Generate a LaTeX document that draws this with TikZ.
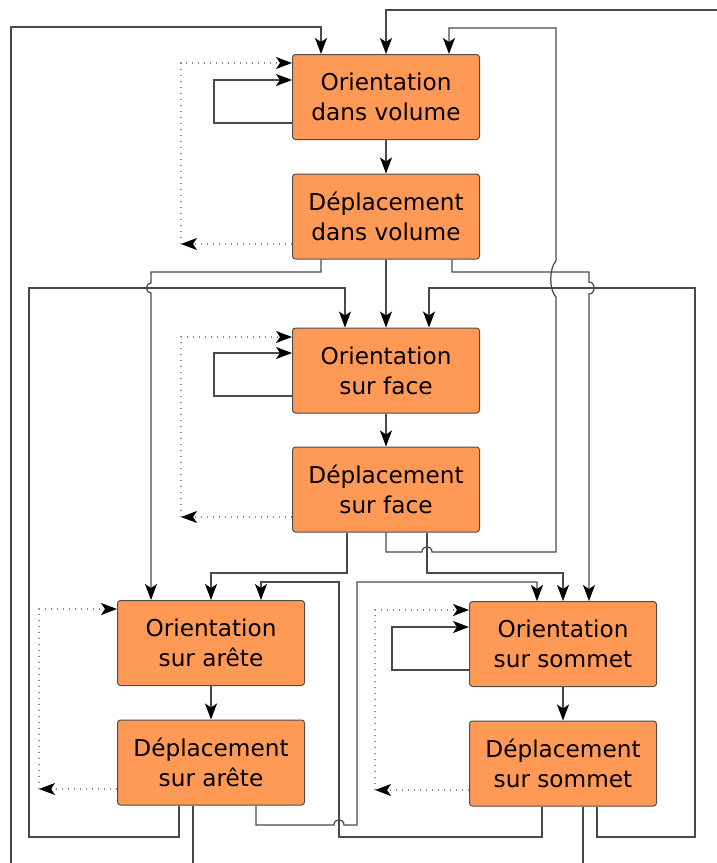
\documentclass[tikz,border=0pt]{standalone}
\usepackage{fontspec}
\setmainfont{DejaVu Sans}
\usetikzlibrary{arrows.meta}
\definecolor{boxfill}{HTML}{FF9955}
\definecolor{boxline}{HTML}{4D4D4D}
\definecolor{wirecol}{HTML}{4A4A4A}
\definecolor{dotcol}{HTML}{8A8A8A}

\begin{document}
\begin{tikzpicture}[x=1pt,y=-1pt,
  stbox/.style={draw=boxline, fill=boxfill, line width=1pt, rounded corners=3pt,
    minimum width=187pt, minimum height=85pt, inner sep=0pt, align=center,
    text=black, font=\fontsize{23.2}{30}\selectfont},
  tip/.tip={Stealth[length=16pt,width=12pt,inset=4pt,black]},
  wire/.style={draw=wirecol, line width=1.25pt},
  conn/.style={wire, -tip},
  back/.style={draw=dotcol, line width=1.2pt, dash pattern=on 1.2pt off 4.8pt, -tip}
]
\path[use as bounding box] (0,0) rectangle (717,863);

% states
\node[stbox] (OV) at (386,97)    {Orientation\\dans volume};
\node[stbox] (DV) at (386,216.5) {Déplacement\\dans volume};
\node[stbox] (OF) at (386,370.5) {Orientation\\sur face};
\node[stbox] (DF) at (386,489.5) {Déplacement\\sur face};
\node[stbox] (OA) at (211,643)   {Orientation\\sur arête};
\node[stbox] (DA) at (211,762.5) {Déplacement\\sur arête};
\node[stbox] (OS) at (563,644)   {Orientation\\sur sommet};
\node[stbox] (DS) at (563,763.5) {Déplacement\\sur sommet};

% loose ends at the border
\coordinate (inL)   at (11,863);
\coordinate (inTop) at (717,10);
\coordinate (outA)  at (193,863);
\coordinate (outS)  at (583,863);

% orientation -> displacement
\draw[conn] (OV) -- (DV);
\draw[conn] (OF) -- (DF);
\draw[conn] (OA) -- (DA);
\draw[conn] (OS) -- (DS);

% self loops
\draw[conn] ([yshift=-26pt]OV.west) -- (214,123) -- (214,80) -- ([yshift=17pt]OV.west);
\draw[conn] ([yshift=-25.5pt]OF.west) -- (214,396) -- (214,353) -- ([yshift=17.5pt]OF.west);
\draw[conn] ([yshift=-26pt]OS.west) -- (392,670) -- (392,627) -- ([yshift=17pt]OS.west);

% dotted returns
\coordinate (rV) at (181,244);
\coordinate (rF) at (181,517);
\coordinate (rA) at (39,789);
\coordinate (rS) at (375,790);
\draw[back] ([yshift=-27.5pt]DV.west) -- (rV);
\draw[back] (rV) |- ([yshift=34pt]OV.west);
\draw[back] ([yshift=-27.5pt]DF.west) -- (rF);
\draw[back] (rF) |- ([yshift=33.5pt]OF.west);
\draw[back] ([yshift=-26.5pt]DA.west) -- (rA);
\draw[back] (rA) |- ([yshift=34pt]OA.west);
\draw[back] ([yshift=-26.5pt]DS.west) -- (rS);
\draw[back] (rS) |- ([yshift=34pt]OS.west);

% entries into the volume block
\draw[conn] (inL) |- (321,27) -- ([xshift=-65pt]OV.north);
\draw[conn] (inTop) -| (OV.north);
\draw[conn] (DF.south) -- (386,552) -- (422,552)
  .. controls (422,545) and (432,545) .. (432,552) -- (556,552) -- (556,297)
  .. controls (549,290) and (549,268) .. (556,261) -- (556,28) -- (449,28)
  -- ([xshift=63pt]OV.north);

% from the volume displacement
\draw[conn] (DV) -- (OF);
\draw[conn] ([xshift=66pt]DV.south) -- (452,272) -- (589,272) -- (589,282)
  .. controls (596,282) and (596,294) .. (589,294) -- ([xshift=26pt]OS.north);
\draw[conn] ([xshift=-65pt]DV.south) -- (321,272) -- (151,272) -- (151,283)
  .. controls (145,283) and (145,293) .. (151,293) -- ([xshift=-60pt]OA.north);

% entries into the face block
\draw[conn] ([xshift=-32pt]DA.south) -- (179,837) -- (29,837) -- (29,288) -- (345,288)
  -- ([xshift=-41pt]OF.north);
\draw[conn] ([xshift=34pt]DS.south) -- (597,837) -- (695,837) -- (695,288) -- (429,288)
  -- ([xshift=43pt]OF.north);

% from the face displacement
\draw[conn] ([xshift=-39pt]DF.south) -- (347,573) -- (211,573) -- (OA.north);
\draw[conn] ([xshift=41pt]DF.south) -- (427,573) -- (563,573) -- (OS.north);

% between edge and vertex blocks
\draw[conn] ([xshift=-21pt]DS.south) -- (542,837) -- (339,837) -- (339,582) -- (261,582)
  -- ([xshift=50pt]OA.north);
\draw[conn] ([xshift=45pt]DA.south) -- (256,825) -- (334,825)
  .. controls (334,818) and (344,818) .. (344,825) -- (357,825) -- (357,582) -- (537,582)
  -- ([xshift=-26pt]OS.north);

% leaving the picture
\draw[wire] ([xshift=-18pt]DA.south) -- (outA);
\draw[wire] ([xshift=20pt]DS.south) -- (outS);
\end{tikzpicture}
\end{document}
